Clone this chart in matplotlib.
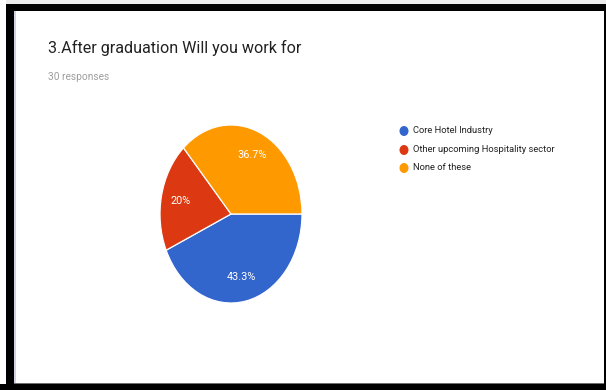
import matplotlib
matplotlib.use("Agg")
import matplotlib.pyplot as plt
from matplotlib.patches import Rectangle, Ellipse
import numpy as np

# Survey answers (30 responses)
categories = ["Core Hotel Industry", "Other upcoming Hospitality sector", "None of these"]
counts = [13, 6, 11]
pct_labels = ["43.3%", "20%", "36.7%"]
colors = ["#3366cc", "#dc3912", "#ff9900"]

title = "3.After graduation Will you work for"
subtitle = "30 responses"

W, H = 606, 390
fig = plt.figure(figsize=(W / 100, H / 100), dpi=100, facecolor="white")


def fx(x):
    return x / W


def fy(y):
    return 1 - y / H


def rect(x0, y0, x1, y1, color):
    fig.patches.append(Rectangle((fx(x0), fy(y1)), (x1 - x0) / W, (y1 - y0) / H,
                                 transform=fig.transFigure, facecolor=color,
                                 edgecolor="none", zorder=0))


# frame around the card
rect(6, 0, 606, 4, "#ececec")
rect(6, 4, 606, 11, "#000000")
rect(6, 4, 14, 390, "#000000")
rect(0, 384, 606, 390, "#000000")
rect(603.5, 4, 606, 390, "#000000")
rect(14, 11, 16, 384, "#d4d0e0")
rect(14, 382.5, 603.5, 384, "#6e6e6e")

# headings
fig.text(fx(48), fy(48), title, fontsize=11.6, family="Roboto", color="#212121",
         va="center", ha="left")
fig.text(fx(48), fy(77), subtitle, fontsize=7.3, family="Roboto", color="#9e9e9e",
         va="center", ha="left")

# pie chart in an elliptical box
cx0, cy0, cx1, cy1 = 160, 125, 302, 303
ax = fig.add_axes([fx(cx0), fy(cy1), (cx1 - cx0) / W, (cy1 - cy0) / H])
wedges, _ = ax.pie(counts, colors=colors, startangle=0, counterclock=False,
                   radius=1.0, wedgeprops=dict(edgecolor="white", linewidth=0.9))
for w, lab in zip(wedges, pct_labels):
    ang = np.deg2rad((w.theta1 + w.theta2) / 2)
    ax.text(0.72 * np.cos(ang), 0.72 * np.sin(ang), lab, ha="center", va="center",
            color="white", fontsize=7.8, family="Roboto")
ax.set_aspect("auto")
ax.set_xlim(-1.0, 1.0)
ax.set_ylim(-1.0, 1.0)
ax.axis("off")

# legend
leg_y = [131, 150, 168]
for name, col, y in zip(categories, colors, leg_y):
    fig.patches.append(Ellipse((fx(404), fy(y)), 9 / W, 10 / H, transform=fig.transFigure,
                               facecolor=col, edgecolor="none"))
    fig.text(fx(413), fy(y), name, fontsize=6.75, family="Roboto", color="#222222",
             va="center", ha="left")

fig.savefig("out.png", dpi=100, facecolor="white")
